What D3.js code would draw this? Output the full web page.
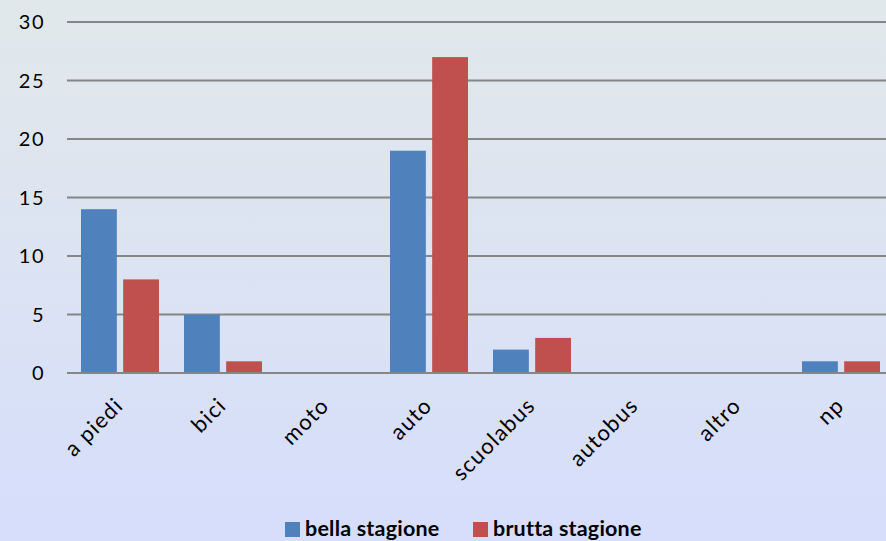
<!DOCTYPE html>
<html>
<head>
<meta charset="utf-8">
<script src="https://cdn.jsdelivr.net/npm/d3@7"></script>
<style>
  body { margin: 0; }
  svg { display: block; font-family: Lato, "Open Sans", sans-serif; }
</style>
</head>
<body>
<div id="chart"></div>
<script>
const categories = ['a piedi', 'bici', 'moto', 'auto', 'scuolabus', 'autobus', 'altro', 'np'];
const series = ['bella stagione', 'brutta stagione'];
const bella = [14, 5, 0, 19, 2, 0, 0, 1];
const brutta = [8, 1, 0, 27, 3, 0, 0, 1];
const colors = ['#4f81bd', '#c0504d'];
const yTicks = [0, 5, 10, 15, 20, 25, 30];

const width = 886;
const height = 541;

const svg = d3.select('#chart')
    .append('svg')
    .attr('width', width)
    .attr('height', height);

// background gradient
const grad = svg.append('defs').append('linearGradient')
    .attr('id', 'bg')
    .attr('x1', 0).attr('y1', 0).attr('x2', 0).attr('y2', 1);
grad.append('stop').attr('offset', '0%').attr('stop-color', '#e1e8ea');
grad.append('stop').attr('offset', '100%').attr('stop-color', '#d6defc');

svg.append('rect')
    .attr('width', width)
    .attr('height', height)
    .attr('fill', 'url(#bg)');

const y = d3.scaleLinear()
    .domain([0, 30])
    .range([373, 22]);

const x0 = d3.scaleBand()
    .domain(categories)
    .range([68, 892])
    .padding(0);

const x1 = d3.scaleBand()
    .domain(series)
    .range([13, 91])
    .paddingInner(0.15);

// gridlines
svg.append('g')
    .selectAll('line')
    .data(yTicks)
    .join('line')
    .attr('x1', 67)
    .attr('x2', width)
    .attr('y1', d => y(d))
    .attr('y2', d => y(d))
    .attr('stroke', '#868686')
    .attr('stroke-width', 2);

// y labels
svg.append('g')
    .selectAll('text')
    .data(yTicks)
    .join('text')
    .attr('x', 45)
    .attr('y', d => y(d))
    .attr('dy', '0.35em')
    .attr('text-anchor', 'end')
    .attr('font-size', 20)
    .attr('letter-spacing', 1.5)
    .attr('fill', '#000')
    .text(d => d);

// bars
const rows = categories.map((c, i) => ({ cat: c, values: [bella[i], brutta[i]] }));

const groups = svg.append('g')
    .selectAll('g')
    .data(rows)
    .join('g')
    .attr('transform', d => `translate(${x0(d.cat)},0)`);

groups.selectAll('rect')
    .data(d => d.values.map((v, j) => ({ s: series[j], v: v, j: j })))
    .join('rect')
    .attr('x', d => x1(d.s))
    .attr('width', x1.bandwidth())
    .attr('y', d => y(d.v))
    .attr('height', d => y(0) - y(d.v))
    .attr('fill', d => colors[d.j]);

// baseline
svg.append('line')
    .attr('x1', 67)
    .attr('x2', width)
    .attr('y1', y(0))
    .attr('y2', y(0))
    .attr('stroke', '#868686')
    .attr('stroke-width', 2);

// category labels, rotated
svg.append('g')
    .selectAll('text')
    .data(categories)
    .join('text')
    .attr('transform', d => `translate(${x0(d) + x0.bandwidth() / 2 + 5},${y(0) + 34}) rotate(-45)`)
    .attr('text-anchor', 'end')
    .attr('font-size', 22)
    .attr('letter-spacing', 1.2)
    .attr('fill', '#000')
    .text(d => d);

// legend
const legend = svg.append('g');
const legendX = [285, 473];
series.forEach((s, i) => {
    legend.append('rect')
        .attr('x', legendX[i])
        .attr('y', 522)
        .attr('width', 15)
        .attr('height', 15)
        .attr('fill', colors[i]);
    legend.append('text')
        .attr('x', legendX[i] + 20)
        .attr('y', 536)
        .attr('font-size', 21.5)
        .attr('font-weight', 'bold')
        .attr('letter-spacing', 0.2)
        .attr('fill', '#000')
        .text(s);
});
</script>
</body>
</html>
